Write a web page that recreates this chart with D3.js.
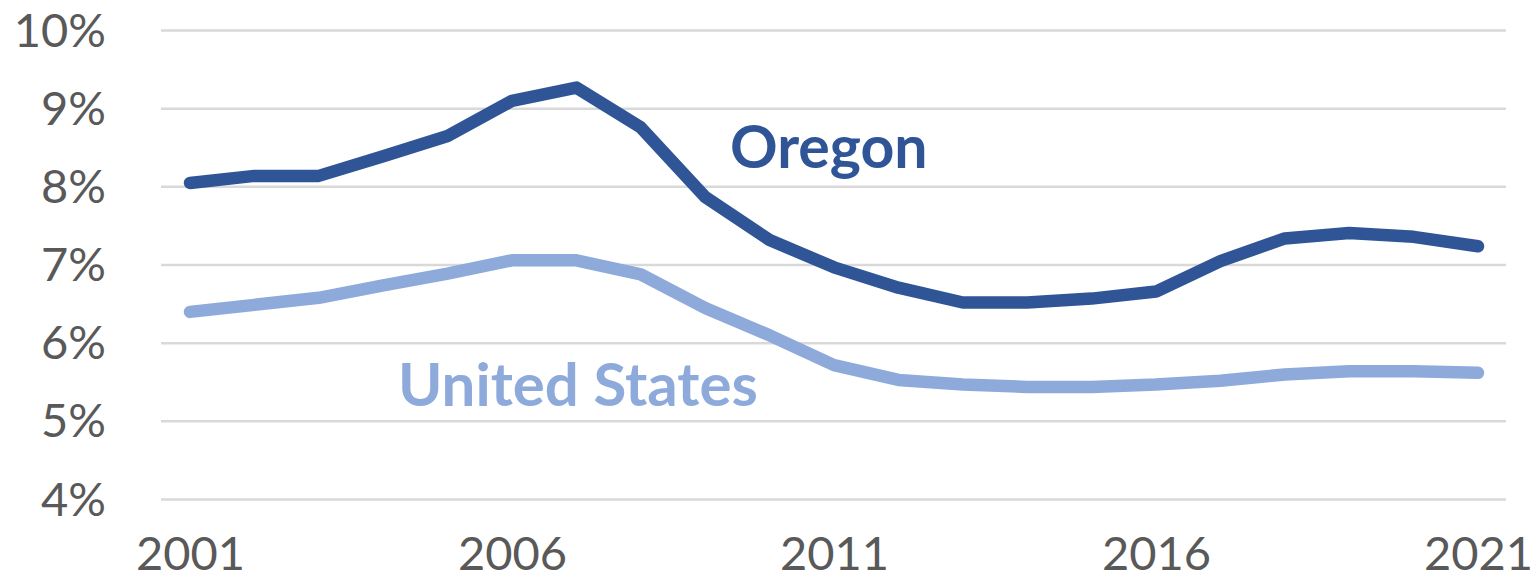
<!DOCTYPE html>
<html>
<head>
<meta charset="utf-8">
<script src="https://cdn.jsdelivr.net/npm/d3@7"></script>
<style>
  html, body { margin: 0; padding: 0; background: #fff; }
  svg { display: block; font-family: Lato, "Open Sans", sans-serif; }
</style>
</head>
<body>
<svg id="chart"></svg>
<script>
// data (percent)
const years = d3.range(2001, 2022);
const oregon = [8.05, 8.14, 8.14, 8.39, 8.65, 9.10, 9.27, 8.76, 7.87, 7.32, 6.97,
                6.71, 6.52, 6.52, 6.57, 6.66, 7.05, 7.34, 7.41, 7.36, 7.24];
const unitedStates = [6.40, 6.49, 6.58, 6.74, 6.89, 7.06, 7.06, 6.88, 6.45, 6.10, 5.72,
                      5.53, 5.47, 5.44, 5.44, 5.47, 5.52, 5.60, 5.64, 5.64, 5.62];
const yTicks = [4, 5, 6, 7, 8, 9, 10];
const xTicks = [2001, 2006, 2011, 2016, 2021];

const width = 1532, height = 585;
const svg = d3.select('#chart')
    .attr("width", width)
    .attr("height", height);

const x = d3.scaleLinear()
    .domain([2001, 2021])
    .range([190, 1478]);
const y = d3.scaleLinear()
    .domain([4, 10])
    .range([499.5, 30.5]);

// gridlines
svg.append("g")
    .selectAll("line")
    .data(yTicks)
    .join("line")
    .attr("x1", 161)
    .attr("x2", 1506)
    .attr("y1", d => y(d))
    .attr("y2", d => y(d))
    .style("stroke", "#d9d9d9")
    .style("stroke-width", "2.5px");

// y axis labels
const yAxis = d3.axisLeft(y)
    .tickValues(yTicks)
    .tickSize(0)
    .tickPadding(0)
    .tickFormat(d => d + "%");
svg.append("g")
    .attr("transform", "translate(106,0)")
    .call(yAxis)
    .call(g => g.select(".domain").remove())
    .selectAll("text")
    .attr("dy", "0.33em")
    .style("font-family", "Lato, sans-serif")
    .style("font-size", "47px")
    .style("fill", "#595959");

// x axis labels
const xAxis = d3.axisBottom(x)
    .tickValues(xTicks)
    .tickSize(0)
    .tickPadding(0)
    .tickFormat(d3.format("d"));
svg.append("g")
    .attr("transform", "translate(0,537)")
    .call(xAxis)
    .call(g => g.select(".domain").remove())
    .selectAll("text")
    .attr("dy", "0.71em")
    .style("font-family", "Lato, sans-serif")
    .style("font-size", "47px")
    .style("fill", "#595959");

const line = d3.line()
    .x((d, i) => x(years[i]))
    .y(d => y(d));

svg.append("path")
    .datum(unitedStates)
    .attr("d", line)
    .style("fill", "none")
    .style("stroke", "#8eaadb")
    .style("stroke-width", "12.5px")
    .style("stroke-linejoin", "round")
    .style("stroke-linecap", "round");

svg.append("path")
    .datum(oregon)
    .attr("d", line)
    .style("fill", "none")
    .style("stroke", "#2f5597")
    .style("stroke-width", "12.5px")
    .style("stroke-linejoin", "round")
    .style("stroke-linecap", "round");

// series labels
svg.append("text")
    .attr("x", 730)
    .attr("y", 168)
    .style("font-family", "Lato, sans-serif")
    .style("font-weight", "bold")
    .style("font-size", "59px")
    .style("fill", "#2f5597")
    .text("Oregon");

svg.append("text")
    .attr("x", 398)
    .attr("y", 406)
    .style("font-family", "Lato, sans-serif")
    .style("font-weight", "bold")
    .style("font-size", "60px")
    .style("fill", "#8eaadb")
    .text("United States");
</script>
</body>
</html>
